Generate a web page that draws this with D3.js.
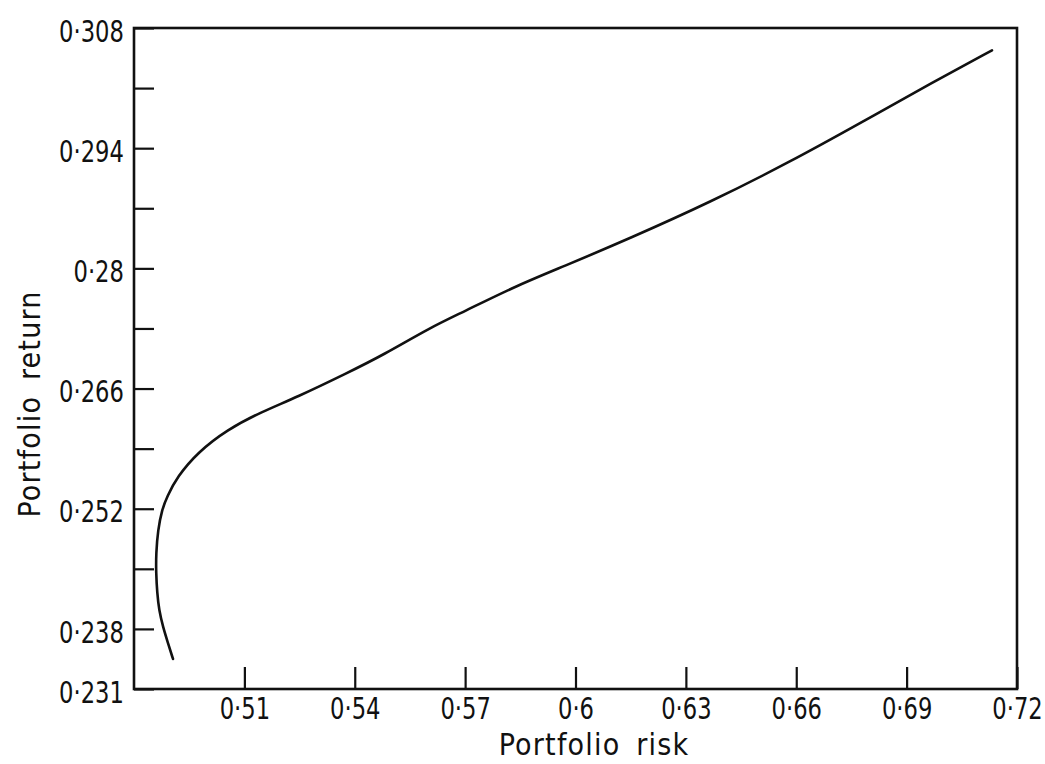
<!DOCTYPE html>
<html>
<head>
<meta charset="utf-8">
<script src="https://cdn.jsdelivr.net/npm/d3@7"></script>
<style>
  html, body { margin: 0; padding: 0; background: #fff; }
  svg { display: block; }
  .lbl { font-family: "DejaVu Sans Condensed", "DejaVu Sans", sans-serif; fill: #111; }
</style>
</head>
<body>
<svg id="chart" width="1045" height="764"></svg>
<script>
// Efficient frontier: portfolio risk (x) vs portfolio return (y)
const risk = [0.4906, 0.4892, 0.4879, 0.4868, 0.4863, 0.4860, 0.4860, 0.4865, 0.4876, 0.4890,
              0.4917, 0.4974, 0.5053, 0.5142, 0.5243, 0.5379, 0.5477, 0.5605, 0.5694, 0.5830,
              0.5966, 0.6148, 0.6366, 0.6583, 0.6773, 0.6972, 0.7132];
const ret  = [0.2345, 0.2364, 0.2382, 0.2402, 0.2422, 0.2445, 0.2468, 0.2495, 0.2519, 0.2534,
              0.2557, 0.2586, 0.2612, 0.2632, 0.2650, 0.2678, 0.2699, 0.2731, 0.2749, 0.2778,
              0.2802, 0.2835, 0.2877, 0.2924, 0.2969, 0.3017, 0.3054];

const xTicks = [0.51, 0.54, 0.57, 0.60, 0.63, 0.66, 0.69, 0.72];
const yTicks = [0.231, 0.238, 0.245, 0.252, 0.259, 0.266, 0.273, 0.280, 0.287, 0.294, 0.301, 0.308];
const yLabelled = [0.231, 0.238, 0.252, 0.266, 0.280, 0.294, 0.308];
const xDomain = [0.48, 0.72];
const yDomain = [0.231, 0.308];
const xTitle = "Portfolio risk";
const yTitle = "Portfolio return";

const mLeft = 134, mRight = 1017, mTop = 28, mBottom = 689;
const svg = d3.select("#chart");

const x = d3.scaleLinear().domain(xDomain).range([mLeft, mRight]);
const y = d3.scaleLinear().domain(yDomain).range([mBottom, mTop]);

const fmt = v => String(+v.toFixed(3)).replace(".", "\u00B7");
const near = (a, b) => Math.abs(a - b) < 1e-6;
const squeeze = 0.84;

// frame
svg.append("rect")
  .attr("x", mLeft).attr("y", mTop)
  .attr("width", mRight - mLeft).attr("height", mBottom - mTop)
  .attr("fill", "none").attr("stroke", "#111").attr("stroke-width", 2.6);

// x axis (ticks pointing inward / up)
const gx = svg.append("g")
  .attr("transform", `translate(0,${mBottom})`)
  .call(d3.axisBottom(x).tickValues(xTicks).tickSizeInner(-22).tickSizeOuter(0)
        .tickPadding(7).tickFormat(fmt));
gx.select(".domain").remove();
gx.selectAll(".tick line").attr("stroke", "#111").attr("stroke-width", 2.2);
gx.selectAll(".tick text").attr("class", "lbl").attr("font-size", 30)
  .attr("dy", "0.76em").attr("transform", `scale(${squeeze},1)`);

// y axis (ticks pointing inward / right)
const gy = svg.append("g")
  .attr("transform", `translate(${mLeft},0)`)
  .call(d3.axisLeft(y).tickValues(yTicks).tickSizeInner(-20).tickSizeOuter(0)
        .tickPadding(12)
        .tickFormat(v => yLabelled.some(l => near(l, v)) ? fmt(v) : ""));
gy.select(".domain").remove();
gy.selectAll(".tick line").attr("stroke", "#111").attr("stroke-width", 2.2);
gy.selectAll(".tick text").attr("class", "lbl").attr("font-size", 30)
  .attr("dy", "0.44em").attr("transform", `scale(${squeeze},1)`);

// frontier curve
const pts = risk.map((r, i) => [r, ret[i]]);
svg.append("path")
  .datum(pts)
  .attr("fill", "none")
  .attr("stroke", "#111")
  .attr("stroke-width", 2.6)
  .attr("stroke-linecap", "round")
  .attr("d", d3.line().x(d => x(d[0])).y(d => y(d[1])).curve(d3.curveBasis));

// axis titles
svg.append("text").attr("class", "lbl")
  .attr("x", 594).attr("y", 755)
  .attr("text-anchor", "middle").attr("font-size", 30)
  .attr("letter-spacing", 1.2).attr("word-spacing", 6)
  .text(xTitle);

svg.append("text").attr("class", "lbl")
  .attr("transform", `translate(40,404) rotate(-90)`)
  .attr("text-anchor", "middle").attr("font-size", 30)
  .attr("letter-spacing", 1.2).attr("word-spacing", 6)
  .text(yTitle);
</script>
</body>
</html>
